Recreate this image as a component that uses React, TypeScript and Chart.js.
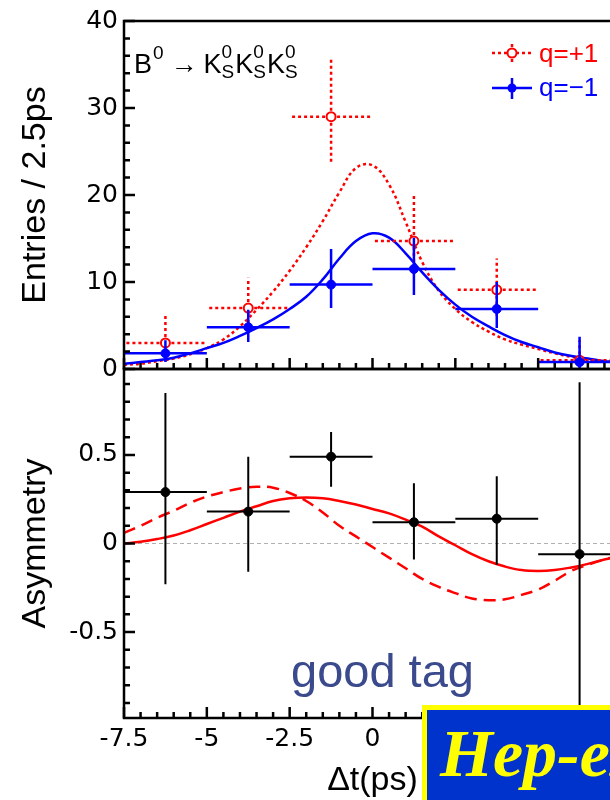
import React, { useEffect, useRef } from 'react';
import { Chart, registerables } from 'chart.js';

Chart.register(...registerables);

// ---------- data ----------
const binLow = [-7.5, -5, -2.5, 0, 2.5, 5];
const binHigh = [-5, -2.5, 0, 2.5, 5, 7.5];
const binCenter = [-6.25, -3.75, -1.25, 1.25, 3.75, 6.25];

const qPlusEntries = [3.0, 7.0, 29.0, 14.7, 9.1, 1.0];
const qPlusErrUp = [3.4, 3.5, 6.7, 5.2, 3.6, 2.3];
const qPlusErrDown = [1.6, 2.6, 5.5, 3.8, 3.0, 0.8];

const qMinusEntries = [1.8, 4.8, 9.7, 11.5, 6.9, 0.8];
const qMinusErrUp = [1.5, 2.0, 4.1, 3.6, 3.1, 2.9];
const qMinusErrDown = [1.0, 1.7, 2.7, 3.0, 2.2, 0.8];

const asymValues = [0.29, 0.18, 0.49, 0.12, 0.14, -0.06];
const asymErrUp = [0.56, 0.31, 0.14, 0.22, 0.24, 0.97];
const asymErrDown = [0.52, 0.34, 0.17, 0.21, 0.26, 1.2];

const curveTimes = [-7.5, -7, -6.5, -6, -5.5, -5, -4.5, -4, -3.5, -3, -2.5, -2, -1.5, -1, -0.5, 0, 0.5, 1, 1.5, 2, 2.5, 3, 3.5, 4, 4.5, 5, 5.5, 6, 6.5, 7, 7.5];
const qPlusFit = [0.5, 0.6, 0.9, 1.2, 1.7, 2.4, 3.4, 4.9, 6.8, 8.9, 11.3, 14.0, 17.0, 20.3, 23.1, 23.4, 21.2, 16.9, 12.3, 9.0, 6.9, 5.4, 4.3, 3.4, 2.8, 2.3, 1.8, 1.4, 1.1, 0.9, 0.7];
const qMinusFit = [0.6, 0.8, 1.0, 1.3, 1.8, 2.4, 3.0, 3.8, 4.7, 5.7, 6.9, 8.3, 10.3, 12.7, 14.7, 15.6, 15.1, 13.3, 11.1, 9.1, 7.4, 6.0, 4.9, 3.9, 3.1, 2.5, 1.9, 1.5, 1.2, 0.9, 0.7];
const asymFitSolid = [0.0, 0.01, 0.025, 0.045, 0.075, 0.11, 0.145, 0.18, 0.21, 0.24, 0.255, 0.26, 0.255, 0.24, 0.22, 0.195, 0.17, 0.135, 0.095, 0.04, -0.01, -0.06, -0.1, -0.13, -0.15, -0.155, -0.15, -0.135, -0.115, -0.09, -0.07];
const asymFitDashed = [0.06, 0.1, 0.145, 0.185, 0.23, 0.265, 0.29, 0.31, 0.32, 0.315, 0.285, 0.24, 0.175, 0.1, 0.04, -0.02, -0.08, -0.14, -0.2, -0.245, -0.28, -0.31, -0.32, -0.315, -0.29, -0.26, -0.21, -0.155, -0.12, -0.09, -0.065];

const xTickValues = [-7.5, -5, -2.5, 0, 2.5, 5, 7.5];
const xTickLabels = ['-7.5', '-5', '-2.5', '0', '2.5', '5', '7.5'];
const xMinorTickValues = [-7, -6.5, -6, -5.5, -4.5, -4, -3.5, -3, -2, -1.5, -1, -0.5, 0.5, 1, 1.5, 2, 3, 3.5, 4, 4.5, 5.5, 6, 6.5, 7];
const entriesTickValues = [0, 10, 20, 30, 40];
const entriesTickLabels = ['0', '10', '20', '30', '40'];
const entriesMinorTickValues = [2, 4, 6, 8, 12, 14, 16, 18, 22, 24, 26, 28, 32, 34, 36, 38];
const asymTickValues = [-0.5, 0, 0.5];
const asymTickLabels = ['-0.5', '0', '0.5'];
const asymMinorTickValues = [-0.9, -0.8, -0.7, -0.6, -0.4, -0.3, -0.2, -0.1, 0.1, 0.2, 0.3, 0.4, 0.6, 0.7, 0.8, 0.9];

const seriesLabels = ['q=+1', 'q=\u22121'];
const decayLabel = { parent: 'B', parentSup: '0', daughter: 'K', dSup: '0', dSub: 'S', count: 3 };

// ---------- styles ----------
const RED = '#ff0000';
const BLUE = '#0000ff';
const SANS = '"Liberation Sans", Arial, Helvetica, sans-serif';
const TICK_FONT = { family: '"DejaVu Sans", sans-serif', size: 25 };
const TITLE_FONT = { family: SANS, size: 34, lineHeight: 1.2 };
const W = 650;
const H = 800;

const pts = (xs: number[], ys: number[]) => xs.map((x, i) => ({ x, y: ys[i] }));

// ---------- plugins ----------
function makeFramePlugin(yMajor: number[], yMinor: number[]) {
  return {
    id: 'frameTicks',
    afterDraw(chart: any) {
      const ctx: CanvasRenderingContext2D = chart.ctx;
      const a = chart.chartArea;
      const xs = chart.scales.x;
      const ys = chart.scales.y;
      ctx.save();
      ctx.setLineDash([]);
      ctx.strokeStyle = '#000000';
      ctx.lineWidth = 2.5;
      ctx.lineCap = 'butt';
      ctx.beginPath();
      ctx.rect(a.left, a.top, a.right - a.left, a.bottom - a.top);
      ctx.stroke();
      const path = new Path2D();
      xTickValues.forEach((v) => {
        const px = xs.getPixelForValue(v);
        path.moveTo(px, a.bottom);
        path.lineTo(px, a.bottom - 11);
      });
      xMinorTickValues.forEach((v) => {
        const px = xs.getPixelForValue(v);
        path.moveTo(px, a.bottom);
        path.lineTo(px, a.bottom - 6);
      });
      yMajor.forEach((v) => {
        const py = ys.getPixelForValue(v);
        path.moveTo(a.left, py);
        path.lineTo(a.left + 11, py);
      });
      yMinor.forEach((v) => {
        const py = ys.getPixelForValue(v);
        path.moveTo(a.left, py);
        path.lineTo(a.left + 6, py);
      });
      ctx.lineWidth = 2.5;
      ctx.stroke(path);
      ctx.restore();
    },
  };
}

const errorBarPlugin = {
  id: 'errorBars',
  beforeDatasetDraw(chart: any, args: any) {
    const ds = chart.data.datasets[args.index];
    if (!ds.errUp) return;
    const { ctx, chartArea: a } = chart;
    const xs = chart.scales.x;
    const ys = chart.scales.y;
    ctx.save();
    ctx.beginPath();
    ctx.rect(a.left, a.top, a.right - a.left, a.bottom - a.top);
    ctx.clip();
    ctx.strokeStyle = ds.errColor;
    ctx.lineWidth = ds.errWidth;
    ctx.setLineDash(ds.errDash || []);
    ds.data.forEach((p: any, i: number) => {
      const px = xs.getPixelForValue(p.x);
      const py = ys.getPixelForValue(p.y);
      const x0 = xs.getPixelForValue(ds.binLow[i]);
      const x1 = xs.getPixelForValue(ds.binHigh[i]);
      const yU = ys.getPixelForValue(p.y + ds.errUp[i]);
      const yD = ys.getPixelForValue(p.y - ds.errDown[i]);
      ctx.beginPath();
      ctx.moveTo(px, py);
      ctx.lineTo(x0, py);
      ctx.moveTo(px, py);
      ctx.lineTo(x1, py);
      ctx.moveTo(px, py);
      ctx.lineTo(px, yU);
      ctx.moveTo(px, py);
      ctx.lineTo(px, yD);
      ctx.stroke();
    });
    ctx.restore();
  },
};

const topOverlayPlugin = {
  id: 'topOverlay',
  afterDraw(chart: any) {
    const { ctx } = chart;
    ctx.save();
    ctx.textBaseline = 'alphabetic';
    ctx.textAlign = 'left';
    ctx.fillStyle = '#000';
    const big = '27px ' + SANS;
    const small = '19px ' + SANS;
    let x = 134;
    ctx.font = big;
    ctx.fillText(decayLabel.parent, x, 73);
    x += ctx.measureText(decayLabel.parent).width;
    ctx.font = small;
    ctx.fillText(decayLabel.parentSup, x + 1, 59);
    x += ctx.measureText(decayLabel.parentSup).width + 8;
    ctx.font = big;
    ctx.fillText('\u2192', x, 73);
    x += ctx.measureText('\u2192').width + 6;
    for (let k = 0; k < decayLabel.count; k++) {
      ctx.font = big;
      ctx.fillText(decayLabel.daughter, x, 73);
      x += ctx.measureText(decayLabel.daughter).width;
      ctx.font = small;
      ctx.fillText(decayLabel.dSup, x, 58);
      ctx.fillText(decayLabel.dSub, x, 78);
      x += Math.max(ctx.measureText(decayLabel.dSup).width, ctx.measureText(decayLabel.dSub).width) + 1;
    }

    // legend
    const dsPlus = chart.data.datasets[1];
    const dsMinus = chart.data.datasets[0];
    ctx.lineWidth = 2.5;
    ctx.strokeStyle = RED;
    ctx.setLineDash([3, 3]);
    ctx.beginPath();
    ctx.moveTo(492, 53);
    ctx.lineTo(532, 53);
    ctx.moveTo(512, 53);
    ctx.lineTo(512, 44);
    ctx.moveTo(512, 53);
    ctx.lineTo(512, 62);
    ctx.stroke();
    ctx.setLineDash([]);
    ctx.beginPath();
    ctx.arc(512, 53, 4.5, 0, Math.PI * 2);
    ctx.fillStyle = '#fff';
    ctx.fill();
    ctx.lineWidth = 2;
    ctx.stroke();

    ctx.strokeStyle = BLUE;
    ctx.lineWidth = 2.5;
    ctx.beginPath();
    ctx.moveTo(492, 88);
    ctx.lineTo(532, 88);
    ctx.moveTo(512, 78);
    ctx.lineTo(512, 99);
    ctx.stroke();
    ctx.beginPath();
    ctx.arc(512, 88, 4.5, 0, Math.PI * 2);
    ctx.fillStyle = BLUE;
    ctx.fill();

    ctx.font = '26px ' + SANS;
    ctx.fillStyle = RED;
    ctx.fillText(dsPlus.label, 539, 62);
    ctx.fillStyle = BLUE;
    ctx.fillText(dsMinus.label, 539, 96);
    ctx.restore();
  },
};

const bottomOverlayPlugin = {
  id: 'bottomOverlay',
  beforeDatasetsDraw(chart: any) {
    const { ctx, chartArea: a } = chart;
    const py = chart.scales.y.getPixelForValue(0);
    ctx.save();
    ctx.strokeStyle = '#b0b0b0';
    ctx.lineWidth = 1;
    ctx.setLineDash([4, 3]);
    ctx.beginPath();
    ctx.moveTo(a.left, py);
    ctx.lineTo(a.right, py);
    ctx.stroke();
    ctx.restore();
  },
  afterDraw(chart: any) {
    const { ctx } = chart;
    ctx.save();
    ctx.textBaseline = 'alphabetic';
    ctx.textAlign = 'left';
    ctx.font = '47px ' + SANS;
    ctx.fillStyle = '#3b4a8c';
    ctx.fillText('good tag', 291, 687);
    // Hep-ex box
    ctx.fillStyle = '#0033cc';
    ctx.fillRect(422, 705, 300, 120);
    ctx.strokeStyle = '#ffff00';
    ctx.lineWidth = 5;
    ctx.setLineDash([]);
    ctx.strokeRect(424.5, 707.5, 300, 120);
    ctx.font = 'italic bold 68px "Liberation Serif", "Times New Roman", serif';
    ctx.fillStyle = '#ffff00';
    ctx.fillText('Hep-ex', 440, 776);
    ctx.restore();
  },
};

// ---------- chart configs ----------
function topConfig(): any {
  return {
    type: 'scatter',
    data: {
      datasets: [
        {
          label: seriesLabels[1],
          data: pts(binCenter, qMinusEntries),
          pointRadius: 4.5,
          pointBackgroundColor: BLUE,
          pointBorderColor: BLUE,
          pointBorderWidth: 1,
          showLine: false,
          order: 0,
          errUp: qMinusErrUp,
          errDown: qMinusErrDown,
          binLow,
          binHigh,
          errColor: BLUE,
          errWidth: 2.5,
        },
        {
          label: seriesLabels[0],
          data: pts(binCenter, qPlusEntries),
          pointRadius: 4.5,
          pointBackgroundColor: '#ffffff',
          pointBorderColor: RED,
          pointBorderWidth: 2,
          showLine: false,
          order: 1,
          errUp: qPlusErrUp,
          errDown: qPlusErrDown,
          binLow,
          binHigh,
          errColor: RED,
          errWidth: 2.5,
          errDash: [3, 3],
        },
        {
          type: 'line',
          label: 'q=-1 fit',
          data: pts(curveTimes, qMinusFit),
          borderColor: BLUE,
          borderWidth: 2.5,
          pointRadius: 0,
          tension: 0.4,
          fill: false,
          order: 2,
        },
        {
          type: 'line',
          label: 'q=+1 fit',
          data: pts(curveTimes, qPlusFit),
          borderColor: RED,
          borderWidth: 2.5,
          borderDash: [3, 3],
          pointRadius: 0,
          tension: 0.4,
          fill: false,
          order: 3,
        },
      ],
    },
    options: {
      animation: false,
      responsive: false,
      events: [],
      layout: { padding: { top: 19, right: 29, bottom: H - 369, left: 0 } },
      plugins: { legend: { display: false }, tooltip: { enabled: false } },
      scales: {
        x: { type: 'linear', min: -7.5, max: 7.5, display: false },
        y: {
          type: 'linear',
          min: 0,
          max: 40,
          afterBuildTicks: (s: any) => {
            s.ticks = entriesTickValues.map((v) => ({ value: v }));
          },
          afterFit: (s: any) => {
            s.width = 124;
          },
          grid: { display: false, drawTicks: false },
          border: { display: false },
          ticks: {
            font: TICK_FONT,
            color: '#000',
            padding: 6,
            callback: (_v: any, i: number) => entriesTickLabels[i],
          },
          title: {
            display: true,
            text: 'Entries / 2.5ps',
            font: TITLE_FONT,
            color: '#000',
            padding: { top: 15, bottom: 0 },
          },
        },
      },
    },
    plugins: [errorBarPlugin, makeFramePlugin(entriesTickValues, entriesMinorTickValues), topOverlayPlugin],
  };
}

function bottomConfig(): any {
  return {
    type: 'scatter',
    data: {
      datasets: [
        {
          label: 'Asymmetry',
          data: pts(binCenter, asymValues),
          pointRadius: 4.5,
          pointBackgroundColor: '#000',
          pointBorderColor: '#000',
          pointBorderWidth: 1,
          showLine: false,
          order: 0,
          errUp: asymErrUp,
          errDown: asymErrDown,
          binLow,
          binHigh,
          errColor: '#000',
          errWidth: 2,
        },
        {
          type: 'line',
          label: 'fit',
          data: pts(curveTimes, asymFitSolid),
          borderColor: RED,
          borderWidth: 2.5,
          pointRadius: 0,
          tension: 0.4,
          fill: false,
          order: 1,
        },
        {
          type: 'line',
          label: 'fit (dashed)',
          data: pts(curveTimes, asymFitDashed),
          borderColor: RED,
          borderWidth: 2.5,
          borderDash: [12, 7],
          pointRadius: 0,
          tension: 0.4,
          fill: false,
          order: 2,
        },
      ],
    },
    options: {
      animation: false,
      responsive: false,
      events: [],
      layout: { padding: { top: 369, right: 29, bottom: 0, left: 0 } },
      plugins: { legend: { display: false }, tooltip: { enabled: false } },
      scales: {
        x: {
          type: 'linear',
          min: -7.5,
          max: 7.5,
          afterBuildTicks: (s: any) => {
            s.ticks = xTickValues.map((v) => ({ value: v }));
          },
          afterFit: (s: any) => {
            s.height = H - 718;
          },
          grid: { display: false, drawTicks: false },
          border: { display: false },
          ticks: {
            font: TICK_FONT,
            color: '#000',
            padding: 6,
            maxRotation: 0,
            autoSkip: false,
            callback: (_v: any, i: number) => xTickLabels[i],
          },
          title: {
            display: true,
            text: '\u0394t(ps)',
            font: { family: SANS, size: 34, lineHeight: 1 },
            color: '#000',
            padding: { top: 0, bottom: 2 },
          },
        },
        y: {
          type: 'linear',
          min: -0.985,
          max: 0.985,
          afterBuildTicks: (s: any) => {
            s.ticks = asymTickValues.map((v) => ({ value: v }));
          },
          afterFit: (s: any) => {
            s.width = 124;
          },
          grid: { display: false, drawTicks: false },
          border: { display: false },
          ticks: {
            font: TICK_FONT,
            color: '#000',
            padding: 6,
            callback: (_v: any, i: number) => asymTickLabels[i],
          },
          title: {
            display: true,
            text: 'Asymmetry',
            font: TITLE_FONT,
            color: '#000',
            padding: { top: 15, bottom: 0 },
          },
        },
      },
    },
    plugins: [errorBarPlugin, makeFramePlugin(asymTickValues, asymMinorTickValues), bottomOverlayPlugin],
  };
}

export default function App() {
  const topRef = useRef<HTMLCanvasElement>(null);
  const botRef = useRef<HTMLCanvasElement>(null);
  useEffect(() => {
    const top = new Chart(topRef.current as HTMLCanvasElement, topConfig());
    const bot = new Chart(botRef.current as HTMLCanvasElement, bottomConfig());
    return () => {
      top.destroy();
      bot.destroy();
    };
  }, []);
  return (
    <div
      style={{
        position: 'fixed',
        left: 0,
        top: 0,
        width: 610,
        height: 800,
        overflow: 'hidden',
        background: '#fff',
      }}
    >
      <canvas ref={topRef} width={W} height={H} style={{ position: 'absolute', left: 0, top: 0 }} />
      <canvas ref={botRef} width={W} height={H} style={{ position: 'absolute', left: 0, top: 0 }} />
    </div>
  );
}
